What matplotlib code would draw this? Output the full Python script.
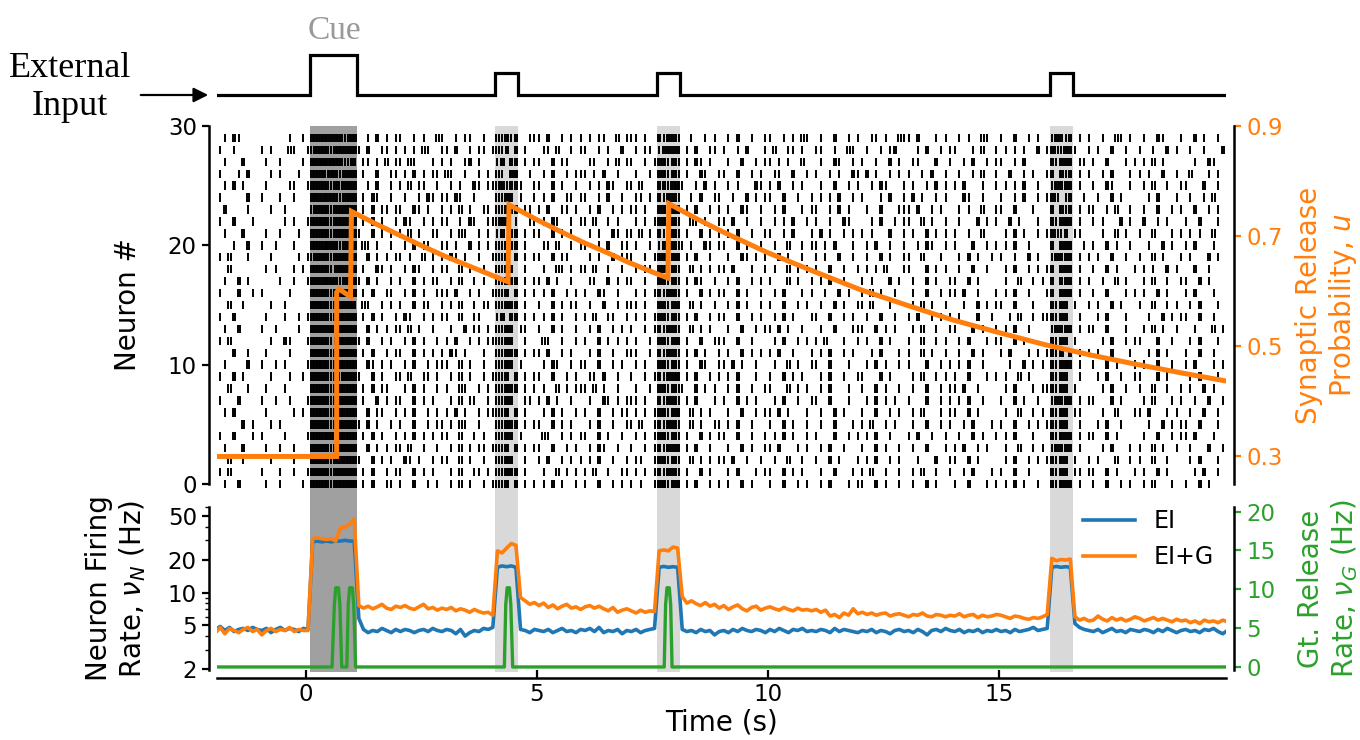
import numpy as np
import matplotlib
matplotlib.use('Agg')
import matplotlib.pyplot as plt
from matplotlib.ticker import LogLocator, NullFormatter

# external input pulses (s) and their height
pulse_start = [0.1, 4.1, 7.6, 16.1]
pulse_end = [1.1, 4.6, 8.1, 16.6]
pulse_level = [1.0, 0.55, 0.55, 0.55]

# synaptic release probability u(t)
u_time = [-2.0, 0.67, 0.67, 0.72, 0.97, 0.99, 1.5, 2.0, 2.5, 3.0, 3.5, 4.0, 4.38,
          4.40, 5.0, 5.5, 6.0, 6.5, 7.0, 7.5, 7.84,
          7.86, 8.5, 9.0, 10.0, 11.0, 12.0, 13.0, 14.0, 15.0, 16.0, 17.0, 18.0, 19.0, 19.92]
u_value = [0.30, 0.30, 0.598, 0.604, 0.590, 0.745, 0.723, 0.703, 0.683, 0.664, 0.647, 0.630, 0.617,
           0.757, 0.730, 0.709, 0.689, 0.671, 0.652, 0.635, 0.624,
           0.759, 0.730, 0.709, 0.670, 0.636, 0.603, 0.575, 0.548, 0.525, 0.503, 0.484, 0.467, 0.451, 0.437]

# population firing rate (Hz), one value per 0.1 s starting at -1.95 s, one row per second
rate_ei = [
    4.6, 4.9, 4.5, 4.8, 4.4, 4.6, 4.7, 4.5, 4.8, 4.6,
    4.5, 4.7, 4.3, 4.6, 4.8, 4.5, 4.7, 4.6, 4.4, 4.7,
    4.6, 29, 29.5, 29, 29.5, 29, 29.5, 29.5, 30, 29.5,
    29.5, 5.8, 4.6, 4.3, 4.5, 4.4, 4.7, 4.5, 4.3, 4.6,
    4.4, 4.6, 4.5, 4.3, 4.5, 4.6, 4.4, 4.7, 4.5, 4.4,
    4.6, 4.5, 4.2, 4.6, 4.0, 4.3, 4.5, 4.4, 4.7, 4.6,
    4.8, 17, 17.5, 17.2, 17.5, 17, 4.6, 4.5, 4.3, 4.6,
    4.5, 4.4, 4.6, 4.3, 4.5, 4.7, 4.4, 4.5, 4.3, 4.6,
    4.5, 4.7, 4.4, 4.8, 4.3, 4.5, 4.4, 4.6, 4.2, 4.5,
    4.4, 4.6, 4.3, 4.5, 4.6, 4.7, 17, 17.3, 17, 17.2,
    17, 4.6, 4.4, 4.5, 4.3, 4.6, 4.4, 4.5, 4.1, 4.4,
    4.5, 4.3, 4.6, 4.4, 4.7, 4.5, 4.4, 4.6, 4.5, 4.3,
    4.6, 4.4, 4.7, 4.5, 4.3, 4.6, 4.5, 4.7, 4.4, 4.5,
    4.4, 4.6, 4.5, 4.3, 4.7, 4.4, 4.6, 4.5, 4.4, 4.3,
    4.5, 4.4, 4.6, 4.3, 4.5, 4.4, 4.2, 4.5, 4.6, 4.4,
    4.5, 4.3, 4.6, 4.4, 4.1, 4.5, 4.6, 4.4, 4.7, 4.5,
    4.4, 4.6, 4.3, 4.5, 4.4, 4.6, 4.3, 4.5, 4.4, 4.6,
    4.4, 4.5, 4.3, 4.6, 4.4, 4.5, 4.6, 4.8, 4.5, 4.6,
    4.7, 17, 17.3, 17, 17.2, 17, 5.2, 4.8, 4.6, 4.5,
    4.4, 4.6, 4.3, 4.5, 4.7, 4.4, 4.5, 4.3, 4.6, 4.5,
    4.4, 4.6, 4.5, 4.3, 4.6, 4.4, 4.7, 4.5, 4.3, 4.5,
    4.6, 4.4, 4.5, 4.3, 4.6, 4.5, 4.7, 4.4, 4.2, 4.5,
]
rate_eig = [
    4.3, 4.8, 4.2, 4.7, 4.5, 4.3, 4.6, 4.8, 4.4, 4.6,
    4.1, 4.5, 4.7, 4.4, 4.6, 4.5, 4.8, 4.4, 4.6, 4.5,
    4.5, 31, 31.5, 31, 30.5, 31, 29.5, 39, 39.5, 42,
    47, 7.6, 7.2, 7.5, 7.1, 7.4, 7.8, 7.2, 7.0, 7.5,
    7.3, 7.6, 7.2, 7.0, 7.4, 7.8, 7.1, 7.3, 6.9, 7.2,
    7.0, 7.3, 6.8, 7.1, 6.9, 6.6, 7.0, 6.7, 6.5, 6.6,
    6.2, 24, 23, 25.5, 28, 27, 9.0, 8.4, 7.8, 8.1,
    7.6, 8.0, 7.3, 7.7, 7.1, 7.5, 7.8, 7.2, 7.4, 7.0,
    7.4, 7.6, 7.2, 7.5, 7.1, 6.8, 7.3, 6.6, 6.9, 7.1,
    6.8, 6.5, 6.9, 6.6, 6.8, 6.7, 24, 24.5, 24, 26,
    25.5, 9.2, 8.0, 8.4, 7.9, 7.6, 8.1, 7.5, 7.8, 7.2,
    7.6, 7.0, 7.4, 7.7, 7.1, 6.8, 7.3, 7.5, 6.9, 7.2,
    7.4, 7.1, 6.9, 7.3, 7.0, 6.8, 7.2, 6.9, 7.0, 6.8,
    7.0, 6.6, 6.9, 6.1, 6.3, 5.9, 6.5, 6.2, 7.1, 6.4,
    6.6, 6.3, 6.5, 6.2, 6.4, 6.5, 6.1, 6.3, 6.4, 6.2,
    6.0, 6.3, 6.2, 6.5, 6.1, 6.0, 6.3, 6.2, 6.0, 6.2,
    6.1, 6.4, 6.0, 6.2, 6.3, 5.9, 6.2, 6.0, 6.1, 6.3,
    6.2, 6.0, 5.8, 6.1, 6.0, 5.8, 5.7, 5.9, 5.8, 6.0,
    6.3, 20.5, 19.5, 20, 19.8, 20.2, 6.0, 5.6, 5.8, 5.5,
    5.6, 6.1, 5.7, 5.5, 5.9, 5.6, 5.8, 5.5, 5.7, 6.0,
    5.8, 5.5, 5.7, 5.9, 5.6, 5.8, 5.6, 5.4, 5.7, 5.5,
    5.6, 5.3, 5.5, 5.2, 5.6, 5.4, 5.5, 5.3, 5.6, 5.4,
]

# gliotransmitter release rate (Hz)
glu_time = [-2.0, 0.57, 0.62, 0.65, 0.71, 0.74, 0.78, 0.89, 0.92, 0.95, 1.01, 1.04, 1.08,
            4.30, 4.33, 4.36, 4.41, 4.44, 4.48, 7.76, 7.79, 7.82, 7.87, 7.90, 7.93, 19.92]
glu_rate = [0, 0, 8, 10.2, 10.2, 8, 0, 0, 8, 10.2, 10.2, 8, 0,
            0, 8, 10.2, 10.2, 8, 0, 0, 8, 10.2, 10.2, 8, 0, 0]

# spike raster, top neuron first; each group = 1 s starting at -2 s, each char = 0.1 s bin
# '.' no spike, digit = number of spikes in the bin
raster_rows = [
    "..1.21.... ......1..1 .333323313 3..1.2.1.1 1..1.1..21 ..1.11..1. .21312..11 1.2..1.1.1 .1.11..2.1 11.1..2132 2..1..1.1. .1.2..1..1 1..1.1.21. .1..2..1.1 ..11.1..21 1.2...1.1. .1.1..21.. 1..2..1.1. .13212.1.1 ..1..21.1. .1..21...1 ..2.1..1..",
    ".1..1..... 1.1...21.. 1233313323 31.2..11.1 .1.1.21..1 1.2..1.11. 1212.2.1.. .11.2..1.1 1..1.1..2. .1.11.1232 3.1.2..11. 1..1.2...1 .2..11.1.. 11..1..21. .1..1.12.. ..1.2..1.1 1...1.2..1 .1.1.1..2. 1221321..1 .1..2..1.. 1..1..2.1. .1..1...2.",
    "1.1...2... .1..1....1 .324333312 2.11.1.2.1 1.21...1.1 .1..12.1.. .13.22.1.1 1..2.11... .11..1.2.1 1..1.12312 2.1.21.1.. .1..2..1.1 1.1.1..2.. .1..21..1. 1..1..2.1. .11...2..1 ..1.2..1.1 1..1.2.... .21322.11. 1..2...1.1 .1.2.1.... ..1..21..1",
    ".1...1.2.. ..1.1...1. .333243133 3.1..2..11 .1.2.1.11. 21..1..1.1 .21.32..1. .1.2..1.11 1.1.2..1.. .1..1.2312 2.1..21..1 1..2..1.1. .11..2..1. 1..1.1..21 .2.1..1.1. 1..1.2..1. .1..1.2..1 ..2..1.1.. 12.312.1.1 ..1.2...1. 1.1..2..1. .2...1.1..",
    "..1.2.1... .1....11.. 1333313233 3..1.2..1. 1.2.11..1. .1.1..21.1 1231221..1 1..2.1..1. .1.1.21..1 1.2...2213 31..1.2.1. .1.1...21. 1.2..1.1.. .1..2..1.1 ..1.21...1 .1..1.2.1. 1.2...1..1 .1.1.2..1. .13222.1.. 1..21...1. .1.2..1..1 1...2..1..",
    ".1.....2.. 1...1..1.. .332333133 3.1.21..1. .1..1.21.1 1.21..1... .2132.1..1 .1.2..11.1 1..1.2..1. .11.1.2132 2..1.2..11 ..1..2.1.1 1..2..1..1 .1.1.2..1. 1...1.2..1 .2.1..1.1. ..21..1... 1..1.2..1. 122.12..1. .1..2.1... ..1.2...1. .1..1.2..1",
    "1.2....1.. ..1..1.... .233313333 3.1.2.11.1 1..21.1..1 .1.2.1..11 .21322.11. 1.2..11.1. .1.2..1.1. 11.1..2312 3.1.2..1.1 .1..21..1. .1.2...1.1 1..1.2.1.. .1..2...11 1.2..1.1.. .1.1..2..1 1..2...1.. .2.312.1.1 1..1.2..1. .1..2..1.1 ..2..1.1..",
    ".1..2...1. .....1.1.. 1334313323 3.1.2.1..1 .21..1.1.1 1..1.21..1 1232.1..11 .1.21..1.1 1.2..1.1.. .1.1.12312 2..21.1..1 1.2..1..1. .1.1.2..1. 1..1..21.. ..1.2..1.1 1..2.1..1. .1...2.1.1 ..2.1...1. .21232.1.. 1.1...2.1. .2..1.1... 1..2...1.1",
    "..1...2... .1..1...1. .333313332 31..2.1.1. 1.2.1..11. .1.21..1.1 .13.22.1.1 1..2.1.1.. .1.1..21.1 1.2.1.2132 2.1..2.1.1 .1.2..1..1 1..1.2...1 .2.1..1.1. 1.1...2..1 .1..2.1.1. 1..1..2... .1.2.1..1. 12212.11.. ..1..2.1.. 1..2...1.1 .1.1..2...",
    "....1..2.. 1..1...1.. .333423133 3.21.1..1. .1.2.11..1 1.1..2.1.1 .21322.1.. .11.2..1.1 1..1.2..11 .1..1.1232 21.1..21.1 1..2.1..1. .1..2..1.1 1.1.2...1. .1.2..1..1 ..1.21..1. 1...2..1.1 .1.2..1... .2.322..1. 1..2.1..1. ..1..2.1.. 1.2...1..1",
    ".1.2...1.. ..1.....1. 1233313333 3..2.1.1.1 1.1..2.1.1 .21.1..1.. 1213.2.1.1 1..2.11... .1.1..2.11 1..1.12312 3.1.2..1.. .1..21.1.1 ..2.1..1.. 1.1..2..1. .1..2.1..1 1..2...1.. .1.2.1..1. 1..1..2.1. .13222.1.1 .1..2..1.. 1..2.1...1 .1...2.1..",
    "1..2...... .1.1...1.1 .333312333 3.1..21.1. .1.21..1.1 1..2.1..1. .2132..1.. .1..21.1.1 1.2..1..1. .1.11.2312 2..2.1.1.1 1.2...1..1 .1..2.1.1. 1..2..1..1 .1.1.2...1 1...2.1.1. .1..2..1.. .1.2..1.1. 12.322.1.. 1..2.1...1 .1.1..2.1. ..2..1...1",
    "..1..2.1.. ....1..1.. 1333433133 31.2.1..1. 1..2.1.11. .1.2..1.1. .21322.1.1 1.2.1..1.. .11..2.1.1 1..1..2312 2.1.21..1. .1.2..1.1. 1...2.1..1 .1.2..1... 1.1...2.1. .1..2.1..1 1..2.1.... .1..2..1.1 .2.222.1.1 ..1..2.1.. .1.2..1..1 1..2.1....",
    ".1...2..1. 1.....1... .333313323 3.1.2..11. .1.2.1..11 1.2..1.1.. 1213.2.1.1 .1.2..1.1. 1..21..1.. .1.1.12132 2.1..2.1.1 1..2.1..1. .1.2...1.1 ..1..2.1.. 1.2.1..1.. .1..2..1.1 1.2..1...1 .1.2..1... 12.322.1.. 1..2...1.1 .1..2.1... 1.2...1..1",
    "1..2..1... ..1..1.... .334313333 2.21..1.1. 1..2.11..1 .1.2..1.11 .21322.1.. 1..2.1.11. .1..2..1.1 11.1..2312 3..2.1..1. .1.2.1..1. 1..2..1.1. .1..2.1..1 1.2...1... .1.2.1..1. ..1..2.1.1 1..2...1.. .2132.1..1 .1..2.1... 1..2..1.1. .1.2...1..",
    ".1..2..... .1...1..1. 1333313333 3.1.2.1..1 .21..1.1.1 1..2..11.. .13.22.1.1 .1.2.1..1. 1.2..11..1 .1.1.12312 2.1.2..1.1 1..2..1.1. .1.2.1...1 1..2..1.1. .1..2..1.. 1.2..1.1.1 .1...2..1. ..1.2..1.1 12132..1.. .1.2...1.. ..1..2.1.1 1..2..1...",
    "..1..2.... 1..1....1. .332331333 3..2.1.1.1 1.2.1..1.. .1..2.11.1 .2132.11.. 1..2.1..1. .1.2..1.1. 1..1.12132 2..2.1.1.. .1..2..1.1 1.2.1..1.. .1..2...11 1..2.1.1.. .1.2..1..1 1...2.1..1 .1.2..1... .13222.1.1 1..2...1.. .1.2.1..1. ..1...2.1.",
    ".1.2...... ..1..21... 1333312333 31.2..1.1. .1.2.1..1. 1.2..1.1.1 12132..1.. .21..1..1. 1..2.1.1.1 .1..1.2312 3.1..2..11 1..2..1... .1.2..1.1. 1.2...1..1 .1..2.1... 1..2..1.1. .1.2...1.1 1..2.1.... .2132.1... ..1.2..1.1 1...2..1.. .1.2...1.1",
    "1...2..1.. .1....1... .333313333 3.1.2..1.1 1..2.1.1.1 .21.1...1. .21322.1.1 1.2..1.1.. .1.2..1..1 11..1.2132 2.1.2.1..1 .1..2.1.1. 1.2..1...1 .1.2..1.1. ..1.2...1. 1..2.1..1. .1..2.1... 1.2...1.1. 1213.2.1.1 .1..2...1. ..1.2.1... 1..2..1..1",
    "..1....2.. 1..1.1.... 1334313333 3..21.1.1. .1.2..1.11 1..2.1..1. .2132.1... .1.21..1.1 1..2..1.1. .1.1..2312 2.1..21..1 1.2.1..1.. .1..2.1..1 1..2...1.. .1.2.1..1. 1...2..1.1 .1.2..1... ..1..2.1.1 .21232.1.. 1..2.1...1 .1..2..1.. 1.2...1.1.",
    ".1..2.1... ..1...1..1 .333313233 31..2.1..1 1.2..11.1. .1.2.1..1. 1213.2.1.1 1..2..1.1. .11.2..1.. 1..1.12132 3.1.2..1.1 .1.2...1.. 1..2.1.1.. .1.2..1..1 1...2.1... .1.2..1.1. 1..2...1.1 .1..2.1... .2132..1.. .1.2..1..1 1...2.1... .1.2...1.1",
    "1..2...1.. .1...1.... .333313333 3.1.2.11.. .1.2.1..1. 1..21..1.1 .21322.1.1 .1..2.1.11 1.2.1..1.. .1..1.2312 21..2.1.1. .1.2..1..1 1...2.1.1. .1.2...1.. 1..2.1..1. .1..2..1.1 1.2..1.... .1.2...1.1 12132.1... ..1.2..1.. 1..2..1..1 .1..2.1...",
    ".1...2.... 1..1..1... 1333313333 3.1..2.1.1 1..2.1.1.. .1.2.11..1 .2132..11. 1.2.1..1.. .1..21.1.1 11.1..2132 2.1.2...1. 1..2.1.1.. .1.2..1..1 1..2...1.. .1.2.1.1.. 1...2..1.1 .1.2..1... 1..2.1..1. .13222.1.1 1...2.1... .1.2...1.1 ..1..2..1.",
    "..1.2..... .1.....1.1 .334313333 3..2.11..1 .1.2..1.1. 1.2.1..1.1 1213.2.1.. .1.2.1..1. 1..2..1.11 .1.1.12312 3..2.1.1.. .1..2..1.1 1.2.1...1. .1..2.1... 1..2..1.1. .1.2...1.1 1..2.1.... .1..2..1.1 .2132.11.. ..1..2...1 1.2...1.1. .1..2..1..",
    "1.....2.1. ..1.1..... .333313323 31.2.1..1. 1..2..1.11 .1.21..1.. .21322.1.1 1..2.1.1.. .1.2..1..1 1.2..12132 2..2.1..11 .1.2..1... 1..2.1..1. .1..2...1. 1.2..1.1.. .1..2..1.1 ..1.2...1. 1..2..1.1. 12132..1.. .1.2..1... ..1..2.1.1 1..2...1..",
    ".1..2...1. 1....1.... 1333431333 3.1.2.1..1 .1.2.1.1.1 1..2..1.1. .2132.1... .21..1.1.1 1..2.1..1. .1.1.12312 2.1..2.1.1 1..2..1..1 .1.2.1..1. 1...2..1.1 .1.2..1... 1.2..1..1. .1..2.1..1 .1.2...1.. .21322.1.1 1..2.1.... .1..2..1.1 1.2...1...",
    "..1...2... .1..1..1.. .333313333 3..2.1.1.1 1.2..1..1. .1.2.1.11. 1213.2.1.1 1..2..1.1. .1.21..1.. 1..1.12132 3.1.2..1.. .1..2.1..1 1.2...1.1. .1.2..1... 1..2.1..1. .1..2...1. 1.2..1.1.. .1..2..1.1 .13222.1.. ..1.2...1. 1..2.1..1. .1...2..1.",
    "1..2..1... ..1....1.. .332313333 31..2.1.1. .21.1..1.1 1..2.1..1. .2132..1.. 1.2..1.1.1 .1.2..1..1 .11..12312 2..2.1.1.1 1.2..1..1. .1..2..1.. 1..2.1...1 .1.2..1.1. ..1...2..1 1..2.1.... .1.2..1.1. 12132.1..1 .1...2..1. 1..2..1... .1.2...1.1",
    ".1.2...... 1...1..1.. 1333313333 3.1.2..1.1 1..2.1.1.. .1.2..11.1 .21322.1.. .1..2.1.1. 1.2..1..11 .1.1.12132 2.1..2.1.. .1.2...1.1 1..2.1.1.. .1..2...1. 1.2..1..1. .1.2..1..1 ..1.2...1. 1..2..1... .2132.11.1 1..2.1...1 .1..2.1... ..1.2..1.1",
    "..1..2.... .1..1....1 .333313323 3.1.2..11. 1..2..1.1. .1.2.1..1. 1213.2.1.1 .1.2.1..1. 1..2..1.1. 1.1..12312 3.1.2..1.1 .1..2.1... 1..2..1.1. .1.2...1.1 1..2.1..1. .1..2.1... 1..2...1.1 .1.2.1..1. .21322.1.. 1..2..1.1. .1.2...1.. 1..2.1...1",
]

blue = '#1f77b4'
orange = '#ff7f0e'
green = '#2ca02c'
xmin, xmax = -1.92, 19.92

plt.rcParams['font.family'] = 'DejaVu Sans'
plt.rcParams['font.size'] = 16.5

fig = plt.figure(figsize=(13.6, 7.4), dpi=100)
W, H = 1360.0, 740.0
ax_in = fig.add_axes([217 / W, 1 - 100 / H, 1009 / W, 60 / H])
ax_r = fig.add_axes([217 / W, 1 - 484 / H, 1009 / W, 358 / H])
ax_b = fig.add_axes([217 / W, 1 - 670 / H, 1009 / W, 163 / H])

# external input trace
t_in = [xmin]
y_in = [0]
for s, e, lev in zip(pulse_start, pulse_end, pulse_level):
    t_in += [s, s, e, e]
    y_in += [0, lev, lev, 0]
t_in.append(xmax)
y_in.append(0)
ax_in.plot(t_in, y_in, color='k', lw=2.3, solid_joinstyle='miter')
ax_in.set_xlim(xmin, xmax)
ax_in.set_ylim(-0.125, 1.375)
ax_in.axis('off')

fig.text(70 / W, 1 - 77 / H, 'External', ha='center', va='baseline',
         family='Liberation Serif', fontsize=26)
fig.text(70 / W, 1 - 115 / H, 'Input', ha='center', va='baseline',
         family='Liberation Serif', fontsize=26)
fig.text(334 / W, 1 - 39 / H, 'Cue', ha='center', va='baseline',
         family='Liberation Serif', fontsize=24, color='#999999')
fig.add_artist(matplotlib.patches.FancyArrowPatch(
    (138 / W, 1 - 95 / H), (211 / W, 1 - 95 / H), transform=fig.transFigure,
    arrowstyle='-|>', mutation_scale=22, color='k', lw=1.6))

# raster
positions = []
offsets = []
for k, row in enumerate(raster_rows):
    times = []
    for g, grp in enumerate(row.split()):
        for c, ch in enumerate(grp):
            if ch == '.':
                continue
            n = int(ch)
            for j in range(n):
                t = g - 2 + (c + (j + 0.5) / n) * 0.1
                if xmin <= t <= xmax:
                    times.append(t)
    positions.append(times)
    offsets.append(len(raster_rows) - 1 - k)

for i, (s, e) in enumerate(zip(pulse_start, pulse_end)):
    col = '#a0a0a0' if i == 0 else '#d9d9d9'
    ax_r.axvspan(s, e, ymin=-0.065, ymax=1, color=col, lw=0, zorder=0, clip_on=False)
    ax_b.axvspan(s, e, ymin=-0.012, ymax=1, color=col, lw=0, zorder=0, clip_on=False)

ev = ax_r.eventplot(positions, lineoffsets=offsets, linelengths=0.7,
                    linewidths=1.4, colors='k')
for coll in ev:
    coll.set_clip_on(False)
ax_r.set_xlim(xmin, xmax)
ax_r.set_ylim(0, 30)
ax_r.set_yticks([0, 10, 20, 30])
ax_r.set_ylabel('Neuron #', fontsize=20)
ax_r.yaxis.set_label_coords(-0.074, 0.5)
ax_r.tick_params(bottom=False, labelbottom=False)
for sp in ['top', 'bottom', 'right']:
    ax_r.spines[sp].set_visible(False)

ax_u = ax_r.twinx()
ax_u.plot(u_time, u_value, color=orange, lw=3.6, solid_joinstyle='miter')
ax_u.set_xlim(xmin, xmax)
ax_u.set_ylim(0.25, 0.9)
ax_u.set_yticks([0.3, 0.5, 0.7, 0.9])
ax_u.tick_params(axis='y', colors=orange)
ax_u.set_ylabel('Synaptic Release\nProbability, $u$', color=orange, fontsize=20)
ax_u.yaxis.set_label_coords(1.068, 0.5)
for sp in ['top', 'bottom', 'left']:
    ax_u.spines[sp].set_visible(False)

# rates
t_rate = np.arange(len(rate_ei)) * 0.1 - 1.95
ax_b.plot(t_rate, rate_ei, color=blue, lw=2.6, label='EI')
ax_b.plot(t_rate, rate_eig, color=orange, lw=2.6, label='EI+G')
ax_b.set_yscale('log')
ax_b.set_ylim(1.96, 60.4)
ax_b.set_xlim(xmin, xmax)
ax_b.set_yticks([2, 5, 10, 20, 50], labels=['2', '5', '10', '20', '50'])
ax_b.yaxis.set_minor_locator(LogLocator(base=10, subs=np.arange(2, 10)))
ax_b.yaxis.set_minor_formatter(NullFormatter())
ax_b.set_xticks([0, 5, 10, 15])
ax_b.set_ylabel('Neuron Firing\nRate, $\\nu_N$ (Hz)', fontsize=20)
ax_b.yaxis.set_label_coords(-0.068, 0.5)
ax_b.set_xlabel('Time (s)', fontsize=20, labelpad=2)
ax_b.legend(loc='upper right', frameon=False, fontsize=17, handlelength=2.2,
            borderaxespad=0.1, bbox_to_anchor=(1.0, 1.06))
for sp in ['top', 'right']:
    ax_b.spines[sp].set_visible(False)
ax_b.tick_params(axis='x', direction='in', length=6, width=1.6)

ax_g = ax_b.twinx()
ax_g.plot(glu_time, glu_rate, color=green, lw=2.4)
ax_g.set_xlim(xmin, xmax)
ax_g.set_ylim(-0.39, 20.6)
ax_g.set_yticks([0, 5, 10, 15, 20])
ax_g.tick_params(axis='y', colors=green)
ax_g.set_ylabel('Gt. Release\nRate, $\\nu_G$ (Hz)', color=green, fontsize=20)
ax_g.yaxis.set_label_coords(1.070, 0.5)
for sp in ['top', 'bottom', 'left']:
    ax_g.spines[sp].set_visible(False)

for ax in [ax_r, ax_u, ax_b, ax_g]:
    for sp in ax.spines.values():
        sp.set_linewidth(1.8)
        sp.set_color('k')
    ax.tick_params(axis='y', which='major', length=5, width=1.6)
    ax.tick_params(axis='y', which='minor', length=3, width=1.0)
ax_r.spines['left'].set_position(('outward', 6))
ax_u.spines['right'].set_position(('outward', 6))
ax_b.spines['left'].set_position(('outward', 6))
ax_b.spines['bottom'].set_position(('outward', 6))
ax_g.spines['right'].set_position(('outward', 6))

fig.savefig('out.png', dpi=100)
